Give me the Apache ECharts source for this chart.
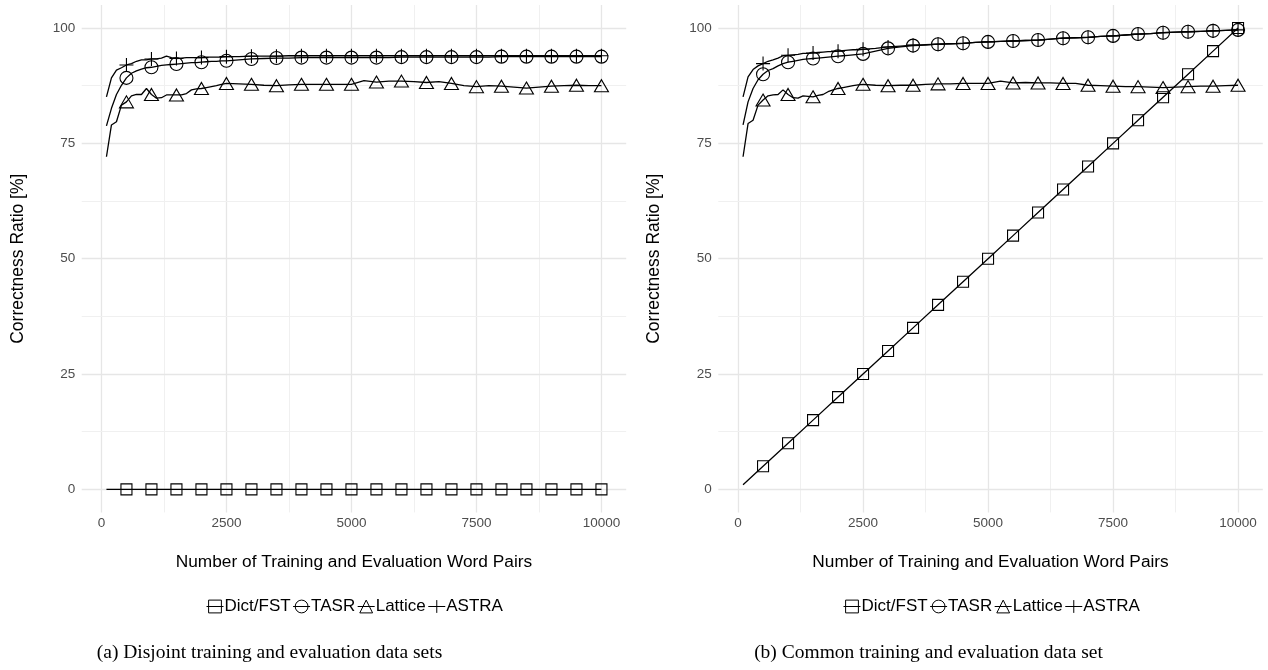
<!DOCTYPE html>
<html>
<head>
<meta charset="utf-8">
<script src="https://cdn.jsdelivr.net/npm/echarts@6/dist/echarts.min.js"></script>
<style>
html,body{margin:0;padding:0;background:#fff;}
#chart{width:1268px;height:670px;}
</style>
</head>
<body>
<div id="chart"></div>
<script>
// ---------- data ----------
const methods = ['Dict/FST', 'TASR', 'Lattice', 'ASTRA'];
const xTickLabels = [0, 2500, 5000, 7500, 10000];
const xMinorGrid = [1250, 3750, 6250, 8750];
const yTickLabels = [0, 25, 50, 75, 100];
const yMinorGrid = [12.5, 37.5, 62.5, 87.5];

const xLine = [100,200,300,400,500,600,700,800,900,1000,1100,1200,1300,1400,1500,1600,1700,1800,1900,2000,2100,2200,2300,2400,2500,
  2750,3000,3250,3500,3750,4000,4250,4500,4750,5000,5250,5500,5750,6000,6250,6500,6750,7000,7250,7500,7750,8000,8250,8500,8750,9000,9250,9500,9750,10000];
const dictX = [100,500,1000,1500,2000,2500,3000,3500,4000,4500,5000,5500,6000,6500,7000,7500,8000,8500,9000,9500,10000];

// (a) disjoint
const leftDict = [0,0,0,0,0,0,0,0,0,0,0,0,0,0,0,0,0,0,0,0,0];
const leftTasr = [78.8,82.6,85.6,87.6,89.2,90.2,90.7,91.1,91.4,91.5,91.7,91.9,92.0,92.1,92.2,92.3,92.4,92.5,92.5,92.6,92.7,92.8,92.8,92.9,92.9,
  93.1,93.3,93.4,93.5,93.5,93.6,93.6,93.6,93.6,93.6,93.6,93.6,93.6,93.7,93.7,93.7,93.7,93.7,93.7,93.7,93.7,93.8,93.8,93.8,93.8,93.8,93.8,93.8,93.8,93.8];
const leftLattice = [72.1,79.0,79.7,83.3,84.0,85.3,85.6,85.6,86.9,85.6,84.8,84.9,85.5,85.5,85.5,85.5,85.8,86.6,86.8,86.9,87.1,87.3,87.5,87.8,88.0,
  87.9,87.8,87.6,87.5,87.7,87.8,87.8,87.8,87.8,87.8,88.6,88.3,88.5,88.5,88.4,88.2,88.4,88.0,87.5,87.3,87.5,87.4,87.2,87.0,87.2,87.4,87.5,87.6,87.5,87.5];
const leftAstra = [85.1,89.2,90.9,91.4,92.0,92.3,92.8,93.1,93.1,93.3,93.3,93.5,93.9,93.6,93.4,93.5,93.6,93.6,93.6,93.6,93.7,93.7,93.7,93.7,93.8,
  93.8,93.9,93.9,93.9,94.0,94.0,94.0,94.0,94.0,94.0,94.0,94.0,94.0,94.0,94.0,94.0,94.0,94.0,94.0,94.0,94.0,94.0,94.0,94.0,94.0,94.0,94.0,94.0,94.0,94.0];

// (b) common
const rightDict = [1,5,10,15,20,25,30,35,40,45,50,55,60,65,70,75,80,85,90,95,100];
const rightTasr = [79.0,84.0,86.9,88.8,90.0,90.8,91.2,91.8,92.3,92.6,92.8,93.0,93.2,93.3,93.4,93.5,93.6,93.7,93.8,93.9,94.0,94.1,94.2,94.3,94.4,
  95.0,95.6,95.9,96.2,96.3,96.5,96.6,96.7,96.9,97.0,97.1,97.2,97.3,97.4,97.6,97.8,97.9,98.0,98.2,98.3,98.5,98.7,98.8,99.0,99.1,99.2,99.3,99.4,99.5,99.6];
const rightLattice = [72.1,79.3,80.0,83.3,84.4,85.3,85.5,85.6,86.6,85.6,84.9,84.8,85.3,85.2,85.1,85.4,85.6,86.2,86.6,86.9,87.1,87.3,87.5,87.7,87.8,
  87.6,87.5,87.6,87.6,87.8,87.9,87.9,88.0,88.0,88.0,88.5,88.1,88.2,88.1,88.1,88.0,88.0,87.6,87.5,87.4,87.3,87.3,87.2,87.1,87.2,87.3,87.4,87.4,87.5,87.6];
const rightAstra = [85.1,89.4,91.0,91.8,92.3,92.8,93.1,93.5,94.0,94.1,94.2,94.3,94.5,94.5,94.6,94.7,94.8,94.9,94.9,95.0,95.1,95.2,95.3,95.3,95.4,
  95.6,95.9,96.1,96.3,96.4,96.5,96.6,96.7,96.9,97.0,97.1,97.2,97.3,97.4,97.6,97.8,97.9,98.0,98.2,98.3,98.5,98.7,98.8,99.0,99.1,99.2,99.3,99.4,99.5,99.6];

const xTitle = 'Number of Training and Evaluation Word Pairs';
const yTitle = 'Correctness Ratio [%]';
const captions = ['(a) Disjoint training and evaluation data sets', '(b) Common training and evaluation data set'];

// ---------- layout / style ----------
const FONT = '"Liberation Sans", Arial, Helvetica, sans-serif';
const panels = [
  {left: 81.7, dict: leftDict, tasr: leftTasr, lattice: leftLattice, astra: leftAstra, caption: captions[0], capX: 269.5},
  {left: 718.3, dict: rightDict, tasr: rightTasr, lattice: rightLattice, astra: rightAstra, caption: captions[1], capX: 928.5}
];
const GRID_TOP = 5, GRID_W = 544.5, GRID_H = 507.4;
const symbols = {
  'Dict/FST': {symbol: 'rect', size: [11, 11]},
  'TASR': {symbol: 'circle', size: 13},
  'Lattice': {symbol: 'triangle', size: [14, 12]},
  'ASTRA': {symbol: 'path://M0,5L10,5M5,0L5,10', size: 14}
};

function gridMarkLine() {
  const major = {color: '#e6e6e6', width: 1.3, type: 'solid'};
  const minor = {color: '#f0f0f0', width: 1, type: 'solid'};
  const d = [];
  xTickLabels.forEach(v => d.push({xAxis: v, lineStyle: major}));
  xMinorGrid.forEach(v => d.push({xAxis: v, lineStyle: minor}));
  yTickLabels.forEach(v => d.push({yAxis: v, lineStyle: major}));
  yMinorGrid.forEach(v => d.push({yAxis: v, lineStyle: minor}));
  return {silent: true, symbol: ['none', 'none'], label: {show: false}, z: 1,
    emphasis: {disabled: true}, animation: false, data: d};
}

function makeSeries(name, xs, ys, idx, withGrid) {
  const s = symbols[name];
  const data = xs.map((x, i) => (x % 500 === 0) ? [x, ys[i]] : {value: [x, ys[i]], symbol: 'none'});
  const ser = {
    type: 'line', name: name, xAxisIndex: idx, yAxisIndex: idx,
    data: data, symbol: s.symbol, symbolSize: s.size, showSymbol: true, showAllSymbol: true,
    itemStyle: {color: 'rgba(0,0,0,0)', borderColor: '#000', borderWidth: 1.1},
    lineStyle: {color: '#000', width: 1.3},
    emphasis: {disabled: true}, z: 3, clip: false
  };
  if (withGrid) ser.markLine = gridMarkLine();
  return ser;
}

const grids = [], xAxes = [], yAxes = [], series = [], legends = [], graphics = [];
panels.forEach((p, i) => {
  grids.push({left: p.left, top: GRID_TOP, width: GRID_W, height: GRID_H, containLabel: false});
  xAxes.push({
    type: 'value', gridIndex: i, min: -395, max: 10495,
    axisLine: {show: false}, axisTick: {show: false}, splitLine: {show: false},
    axisLabel: {customValues: xTickLabels, formatter: v => String(v), color: '#4d4d4d', fontSize: 13.5, fontFamily: FONT, margin: 4},
    name: xTitle, nameLocation: 'middle', nameGap: 41,
    nameTextStyle: {color: '#000', fontSize: 17.3, fontFamily: FONT}
  });
  yAxes.push({
    type: 'value', gridIndex: i, min: -5, max: 105,
    axisLine: {show: false}, axisTick: {show: false}, splitLine: {show: false},
    axisLabel: {customValues: yTickLabels, formatter: v => String(v), color: '#4d4d4d', fontSize: 13.5, fontFamily: FONT, margin: 6.5},
    name: yTitle, nameLocation: 'middle', nameGap: 55, nameRotate: 90,
    nameTextStyle: {color: '#000', fontSize: 17.5, fontFamily: FONT}
  });
  series.push(makeSeries('Dict/FST', dictX, p.dict, i, true));
  series.push(makeSeries('TASR', xLine, p.tasr, i, false));
  series.push(makeSeries('Lattice', xLine, p.lattice, i, false));
  series.push(makeSeries('ASTRA', xLine, p.astra, i, false));
  legends.push({
    data: methods, left: i === 0 ? 201 : 838, top: 593, orient: 'horizontal',
    itemWidth: 17, itemHeight: 16, itemGap: 2, selectedMode: false,
    itemStyle: {color: 'rgba(0,0,0,0)', borderColor: '#000', borderWidth: 1},
    lineStyle: {color: '#000', width: 1},
    textStyle: {color: '#000', fontSize: 17, fontFamily: FONT, padding: [0, 0, 0, -4]}
  });
  graphics.push({type: 'text', x: p.capX, y: 653, silent: true,
    style: {text: p.caption, fill: '#000', font: '19.5px "Liberation Serif", "Times New Roman", serif',
      textAlign: 'center', textVerticalAlign: 'middle'}});
});

const chart = echarts.init(document.getElementById('chart'), null, {renderer: 'canvas'});
chart.setOption({
  animation: false,
  backgroundColor: '#fff',
  grid: grids, xAxis: xAxes, yAxis: yAxes, series: series, legend: legends, graphic: graphics
});
</script>
</body>
</html>
